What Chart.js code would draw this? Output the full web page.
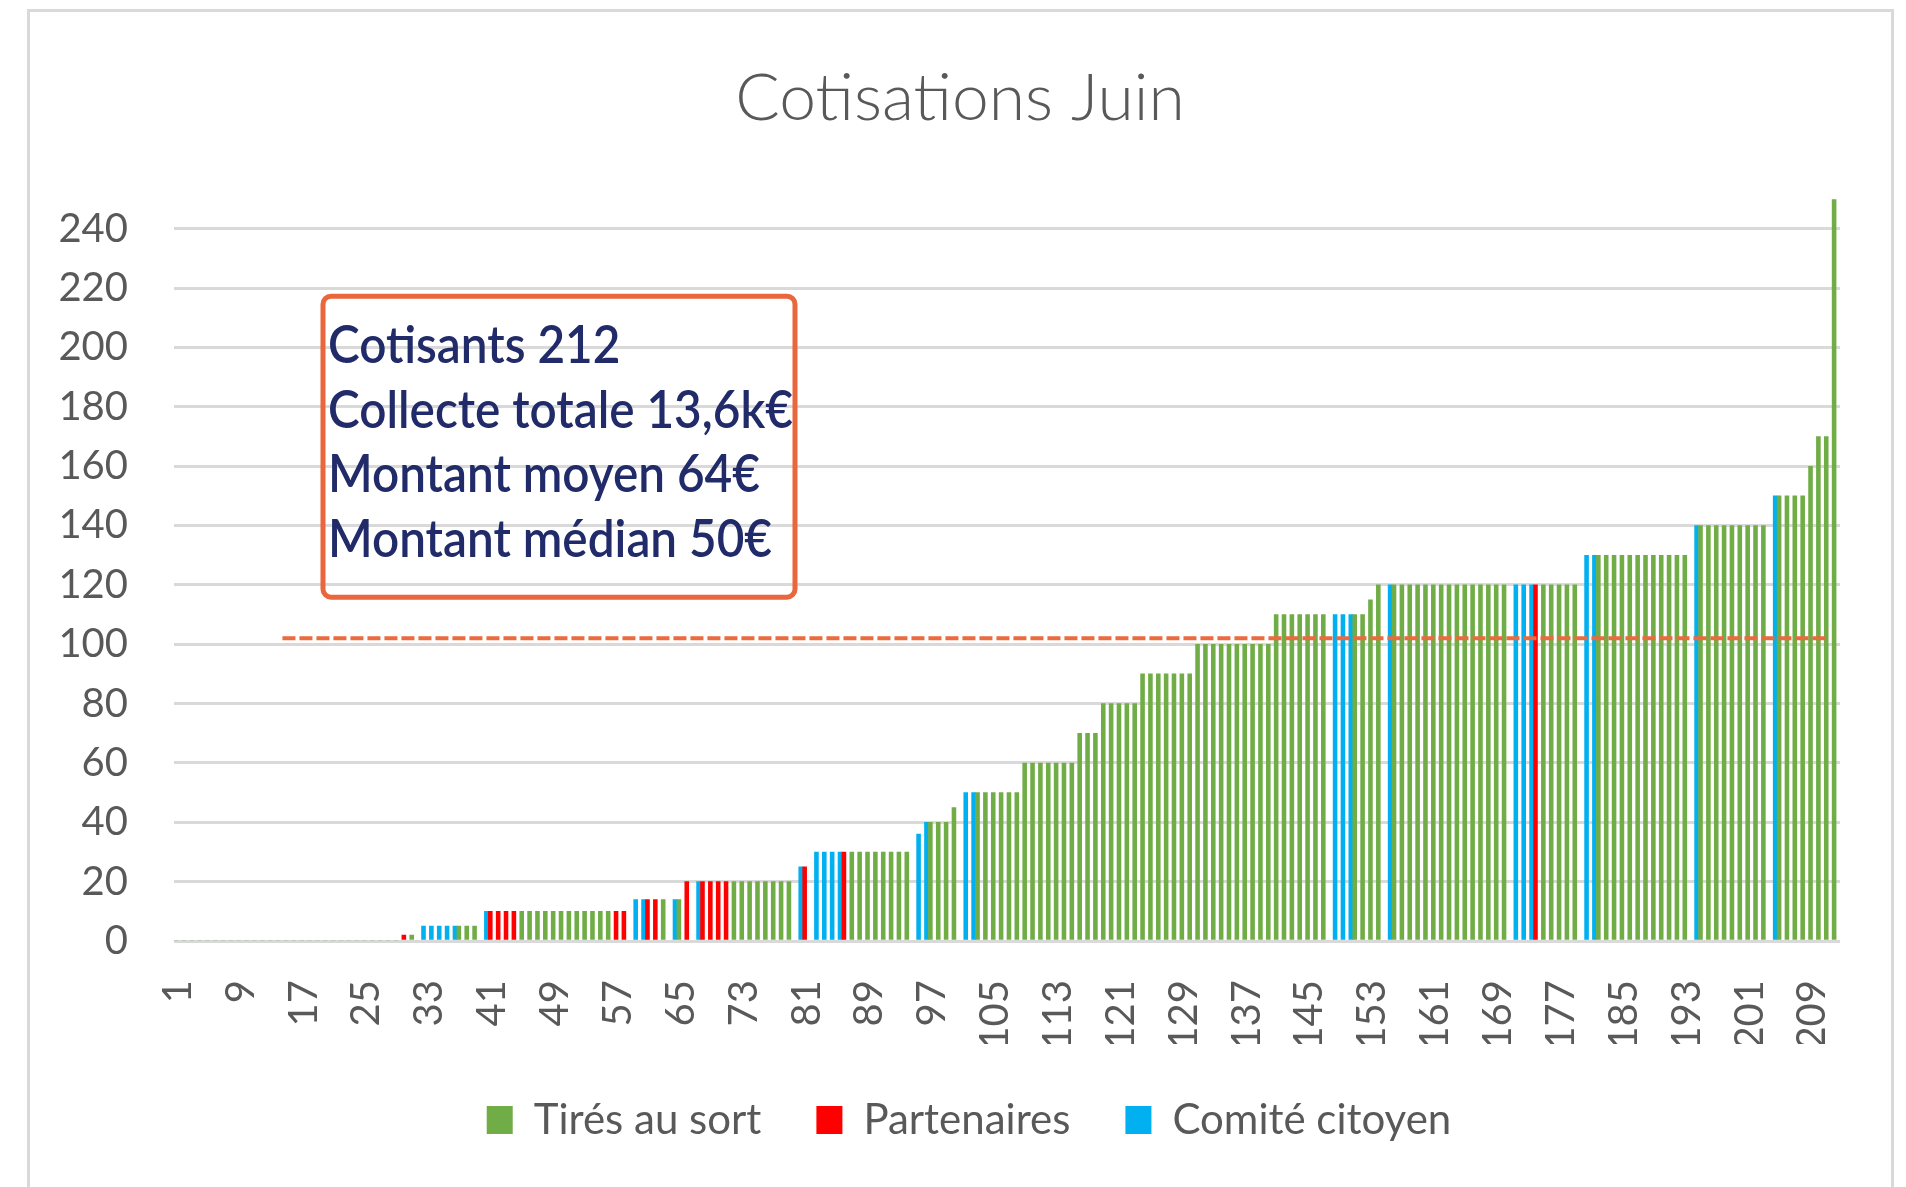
<!DOCTYPE html>
<html lang="fr">
<head>
<meta charset="utf-8">
<title>Cotisations Juin</title>
<script src="https://cdn.jsdelivr.net/npm/chart.js@4.4.1/dist/chart.umd.min.js"></script>
<style>
  html, body { margin: 0; padding: 0; background: #fff; }
  #wrap { width: 1906px; height: 1187px; }
</style>
</head>
<body>
<div id="wrap"><canvas id="chart" width="1906" height="1187"></canvas></div>
<script>
// Montant par cotisant, trié (cotisants 1 à 212)
const montants = [
  0, 0, 0, 0, 0, 0, 0, 0, 0, 0, 0, 0, 0, 0, 0, 0, 0, 0, 0, 0,
  0, 0, 0, 0, 0, 0, 0, 0, 0, 2, 2, 5, 5, 5, 5, 5, 5, 5, 5, 10,
  10, 10, 10, 10, 10, 10, 10, 10, 10, 10, 10, 10, 10, 10, 10, 10, 10, 10, 14, 14,
  14, 14, 14, 14, 14, 20, 20, 20, 20, 20, 20, 20, 20, 20, 20, 20, 20, 20, 20, 25,
  25, 30, 30, 30, 30, 30, 30, 30, 30, 30, 30, 30, 30, 30, 36, 40, 40, 40, 40, 45,
  50, 50, 50, 50, 50, 50, 50, 50, 60, 60, 60, 60, 60, 60, 60, 70, 70, 70, 80, 80,
  80, 80, 80, 90, 90, 90, 90, 90, 90, 90, 100, 100, 100, 100, 100, 100, 100, 100, 100, 100,
  110, 110, 110, 110, 110, 110, 110, 110, 110, 110, 110, 110, 115, 120, 120, 120, 120, 120, 120, 120,
  120, 120, 120, 120, 120, 120, 120, 120, 120, 120, 120, 120, 120, 120, 120, 120, 120, 120, 120, 130,
  130, 130, 130, 130, 130, 130, 130, 130, 130, 130, 130, 130, 130, 140, 140, 140, 140, 140, 140, 140,
  140, 140, 140, 150, 150, 150, 150, 150, 160, 170, 170, 250
];

// Groupe de chaque cotisant : T = Tirés au sort, P = Partenaires, C = Comité citoyen
const groupes = [
  'T','T','T','T','T','T','T','T','T','T','T','T','T','T','T','T','T','T','T','T',
  'T','T','T','T','T','T','T','T','T','P','T','C','C','C','C','C','T','T','T','C',
  'P','P','P','P','T','T','T','T','T','T','T','T','T','T','T','T','P','P','C','C',
  'P','P','T','C','T','P','C','P','P','P','P','T','T','T','T','T','T','T','T','C',
  'P','C','C','C','C','P','T','T','T','T','T','T','T','T','C','C','T','T','T','T',
  'C','C','T','T','T','T','T','T','T','T','T','T','T','T','T','T','T','T','T','T',
  'T','T','T','T','T','T','T','T','T','T','T','T','T','T','T','T','T','T','T','T',
  'T','T','T','T','T','T','T','C','C','C','T','T','T','T','C','T','T','T','T','T',
  'T','T','T','T','T','T','T','T','T','T','C','C','C','P','T','T','T','T','T','C',
  'C','T','T','T','T','T','T','T','T','T','T','T','T','C','T','T','T','T','T','T',
  'T','T','T','C','T','T','T','T','T','T','T','T'
];

const series = [
  { code: 'T', label: 'Tirés au sort', couleur: '#70AD47', pile: 'a' },
  { code: 'P', label: 'Partenaires', couleur: '#FF0000', pile: 'a' },
  { code: 'C', label: 'Comité citoyen', couleur: '#00B0F0', pile: 'b' }
];

const categories = montants.map((_, i) => String(i + 1));
const pasEtiquettes = 8;
const graduationsY = [0, 20, 40, 60, 80, 100, 120, 140, 160, 180, 200, 220, 240];
const maxY = 250;

// Ligne pointillée (valeur et étendue en numéros de cotisant)
const ligneValeur = 102;
const ligneDebut = 14.3;
const ligneFin = 210.9;

const encadreLignes = ['Cotisants 212', 'Collecte totale 13,6k€', 'Montant moyen 64€', 'Montant médian 50€'];

const GRIS = '#595959';
const POLICE = 'Lato, "Open Sans", sans-serif';

function serie(code) {
  return montants.map((v, i) => groupes[i] === code ? v : null);
}

// Cadre gris autour du graphique
const cadre = {
  id: 'cadre',
  beforeDraw(chart) {
    const ctx = chart.ctx;
    ctx.save();
    ctx.fillStyle = '#fff';
    ctx.fillRect(0, 0, chart.width, chart.height);
    ctx.strokeStyle = '#D9D9D9';
    ctx.lineWidth = 3;
    ctx.strokeRect(28.5, 10.5, 1864, 1300);
    ctx.restore();
  }
};

// Titre et légende un peu décalés vers la droite, comme dans l'original
const decalage = {
  id: 'decalage',
  afterLayout(chart) {
    if (chart.legend) {
      chart.legend.left += 29;
      chart.legend.right += 29;
    }
    if (chart.titleBlock) {
      chart.titleBlock.left += 20;
      chart.titleBlock.right += 20;
    }
  }
};

// Ligne de référence en pointillés
const ligneRef = {
  id: 'ligneRef',
  afterDatasetsDraw(chart) {
    const { ctx, scales: { x, y } } = chart;
    const py = y.getPixelForValue(ligneValeur);
    ctx.save();
    ctx.strokeStyle = '#EB6A3E';
    ctx.lineWidth = 4;
    ctx.setLineDash([13, 4]);
    ctx.beginPath();
    ctx.moveTo(x.getPixelForValue(ligneDebut - 1), py);
    ctx.lineTo(x.getPixelForValue(ligneFin - 1), py);
    ctx.stroke();
    ctx.restore();
  }
};

// Encadré avec les chiffres clés
const encadre = {
  id: 'encadre',
  afterDatasetsDraw(chart) {
    const ctx = chart.ctx;
    const a = chart.chartArea;
    const bx = a.left + 149, by = a.top + 97, bw = 472, bh = 301;
    ctx.save();
    ctx.strokeStyle = '#EA663C';
    ctx.lineWidth = 5;
    ctx.beginPath();
    ctx.roundRect(bx, by, bw, bh, 8);
    ctx.stroke();

    ctx.fillStyle = '#212B69';
    ctx.font = '600 52px ' + POLICE;
    ctx.textBaseline = 'alphabetic';
    const largeur = ctx.measureText(encadreLignes[1]).width;
    const sx = 465 / largeur;
    encadreLignes.forEach((t, i) => {
      ctx.save();
      ctx.translate(bx + 5, by + 67 + i * 64.5);
      ctx.scale(sx, 1);
      ctx.fillText(t, 0, 0);
      ctx.restore();
    });
    ctx.restore();
  }
};

new Chart(document.getElementById('chart'), {
  type: 'bar',
  data: {
    labels: categories,
    datasets: series.map(s => ({
      label: s.label,
      data: serie(s.code),
      backgroundColor: s.couleur,
      stack: s.pile
    }))
  },
  options: {
    responsive: false,
    animation: false,
    devicePixelRatio: 1,
    datasets: { bar: { categoryPercentage: 1, barPercentage: 1, borderWidth: 0 } },
    layout: { padding: { left: 40, right: 66, top: 0, bottom: 36 } },
    plugins: {
      title: {
        display: true,
        text: 'Cotisations Juin',
        color: GRIS,
        font: { family: POLICE, size: 66, weight: 300 },
        padding: { top: 59, bottom: 61 }
      },
      legend: {
        position: 'bottom',
        labels: {
          color: GRIS,
          font: { family: POLICE, size: 42 },
          boxWidth: 26,
          boxHeight: 28,
          padding: 55
        }
      },
      tooltip: { enabled: false }
    },
    scales: {
      x: {
        grid: { display: false },
        border: { display: false },
        ticks: {
          autoSkip: false,
          minRotation: 90,
          maxRotation: 90,
          padding: 31,
          color: GRIS,
          font: { family: POLICE, size: 40 },
          callback: (v, i) => i % pasEtiquettes === 0 ? categories[i] : null
        },
        afterFit: s => { s.height = 103; }
      },
      y: {
        min: 0,
        max: maxY,
        grid: { color: '#D9D9D9', lineWidth: 3, drawTicks: false },
        border: { display: false },
        ticks: { padding: 46, color: GRIS, font: { family: POLICE, size: 40 } },
        afterBuildTicks: s => { s.ticks = graduationsY.map(v => ({ value: v })); },
        afterFit: s => { s.width = 134; }
      }
    }
  },
  plugins: [cadre, decalage, ligneRef, encadre]
});
</script>
</body>
</html>
